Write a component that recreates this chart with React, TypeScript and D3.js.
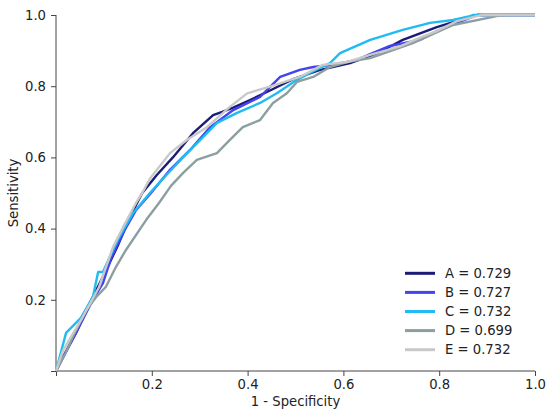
import React, { useRef, useEffect } from "react";
import * as d3 from "d3";

type Pt = [number, number];

// [1 - specificity, sensitivity]
const curveA: Pt[] = [
    [0, 0], [0.015, 0.04], [0.043, 0.11], [0.074, 0.2], [0.1, 0.27], [0.13, 0.355],
    [0.157, 0.44], [0.18, 0.5], [0.21, 0.55], [0.244, 0.6], [0.286, 0.668], [0.328, 0.719],
    [0.347, 0.728], [0.37, 0.74], [0.405, 0.761], [0.45, 0.79], [0.495, 0.82], [0.55, 0.845],
    [0.614, 0.865], [0.676, 0.896], [0.724, 0.93], [0.795, 0.966], [0.87, 0.997], [0.88, 1], [1, 1],
];
const curveB: Pt[] = [
    [0, 0], [0.015, 0.039], [0.048, 0.124], [0.077, 0.2], [0.098, 0.247], [0.115, 0.317],
    [0.14, 0.388], [0.167, 0.452], [0.192, 0.49], [0.203, 0.508], [0.238, 0.565], [0.28, 0.621],
    [0.322, 0.685], [0.37, 0.733], [0.426, 0.77], [0.468, 0.826], [0.509, 0.846], [0.537, 0.854],
    [0.578, 0.86], [0.628, 0.874], [0.656, 0.89], [0.697, 0.913], [0.76, 0.93], [0.795, 0.955],
    [0.837, 0.978], [0.864, 0.992], [0.88, 1], [1, 1],
];
const curveC: Pt[] = [
    [0, 0], [0.021, 0.107], [0.052, 0.149], [0.077, 0.208], [0.088, 0.278], [0.098, 0.278],
    [0.111, 0.317], [0.129, 0.368], [0.161, 0.444], [0.196, 0.5], [0.23, 0.55], [0.265, 0.6],
    [0.307, 0.657], [0.336, 0.697], [0.378, 0.725], [0.426, 0.753], [0.461, 0.78], [0.5, 0.815],
    [0.53, 0.837], [0.572, 0.865], [0.593, 0.893], [0.656, 0.93], [0.724, 0.958], [0.781, 0.978],
    [0.829, 0.986], [0.864, 0.997], [0.87, 1], [1, 1],
];
const curveD: Pt[] = [
    [0, 0], [0.02, 0.05], [0.04, 0.11], [0.063, 0.171], [0.084, 0.208], [0.104, 0.236],
    [0.125, 0.292], [0.146, 0.34], [0.188, 0.424], [0.215, 0.472], [0.24, 0.52], [0.265, 0.556],
    [0.294, 0.593], [0.336, 0.612], [0.363, 0.649], [0.39, 0.685], [0.426, 0.705], [0.453, 0.753],
    [0.482, 0.78], [0.503, 0.812], [0.537, 0.826], [0.572, 0.854], [0.608, 0.868], [0.656, 0.879],
    [0.745, 0.921], [0.829, 0.972], [0.92, 0.997], [0.94, 1], [1, 1],
];
const curveE: Pt[] = [
    [0, 0], [0.015, 0.059], [0.056, 0.152], [0.09, 0.236], [0.119, 0.348], [0.14, 0.404],
    [0.167, 0.472], [0.18, 0.5], [0.196, 0.54], [0.238, 0.612], [0.273, 0.649], [0.315, 0.685],
    [0.363, 0.742], [0.399, 0.78], [0.45, 0.8], [0.509, 0.826], [0.557, 0.86], [0.608, 0.868],
    [0.656, 0.888], [0.718, 0.912], [0.766, 0.94], [0.795, 0.955], [0.837, 0.983], [0.879, 0.997],
    [0.89, 1], [1, 1],
];

const names = ["A", "B", "C", "D", "E"];
const aucs = [0.729, 0.727, 0.732, 0.699, 0.732];
const colors = ["#1b1b78", "#4343ef", "#1fbbf2", "#8c9fa0", "#c9c9c9"];
const curves = [curveA, curveB, curveC, curveD, curveE];
const ticks = [0, 0.2, 0.4, 0.6, 0.8, 1.0];

const width = 550;
const height = 415;
const margin = { top: 15, right: 15, bottom: 44, left: 56 };
const font = "'DejaVu Sans', Verdana, sans-serif";
const fontSize = "13.2px";

export default function App() {
    const ref = useRef<SVGSVGElement | null>(null);

    useEffect(() => {
        if (!ref.current) return;
        const svg = d3.select(ref.current);
        svg.selectAll("*").remove();

        const x = d3.scaleLinear().domain([0, 1]).range([margin.left, width - margin.right]);
        const y = d3.scaleLinear().domain([0, 1]).range([height - margin.bottom, margin.top]);
        const fmt = (d: d3.NumberValue) => (+d === 0 ? "" : d3.format(".1f")(d));

        const xAxis = svg.append("g")
            .attr("transform", `translate(0,${y(0)})`)
            .call(d3.axisBottom(x).tickValues(ticks).tickFormat(fmt).tickSize(5).tickPadding(4));
        const yAxis = svg.append("g")
            .attr("transform", `translate(${x(0)},0)`)
            .call(d3.axisLeft(y).tickValues(ticks).tickFormat(fmt).tickSize(5).tickPadding(5));

        [xAxis, yAxis].forEach((g) => {
            g.select(".domain").attr("stroke", "#444");
            g.selectAll(".tick line").attr("stroke", "#444");
            g.selectAll(".tick text")
                .attr("fill", "#222")
                .style("font-family", font)
                .style("font-size", fontSize);
        });
        xAxis.select(".domain").attr("d", `M${x(0)},0H${x(1)}`);
        yAxis.select(".domain").attr("d", `M0,${y(0)}V${y(1)}`);

        svg.append("text")
            .attr("x", (x(0) + x(1)) / 2)
            .attr("y", 406)
            .attr("text-anchor", "middle")
            .attr("fill", "#222")
            .style("font-family", font)
            .style("font-size", fontSize)
            .text("1 - Specificity");

        svg.append("text")
            .attr("transform", `translate(18,${(y(0) + y(1)) / 2}) rotate(-90)`)
            .attr("text-anchor", "middle")
            .attr("fill", "#222")
            .style("font-family", font)
            .style("font-size", fontSize)
            .text("Sensitivity");

        const line = d3.line<Pt>().x((d) => x(d[0])).y((d) => y(d[1]));

        svg.append("g")
            .selectAll("path")
            .data(curves)
            .enter()
            .append("path")
            .attr("d", (d) => line(d))
            .attr("fill", "none")
            .attr("stroke", (_, i) => colors[i])
            .attr("stroke-width", 2.4)
            .attr("stroke-linejoin", "round");

        const legend = svg.append("g");
        const row = legend.selectAll("g")
            .data(names)
            .enter()
            .append("g")
            .attr("transform", (_, i) => `translate(405,${273.3 + i * 19.1})`);
        row.append("line")
            .attr("x1", 0).attr("x2", 30)
            .attr("stroke", (_, i) => colors[i])
            .attr("stroke-width", 3);
        row.append("text")
            .attr("x", 40)
            .attr("dy", "0.36em")
            .attr("fill", "#222")
            .style("font-family", font)
            .style("font-size", fontSize)
            .text((d, i) => `${d} = ${aucs[i].toFixed(3)}`);
    }, []);

    return (
        <div style={{ position: "absolute", left: 0, top: 0 }}>
            <svg ref={ref} width={width} height={height} style={{ display: "block", background: "#fff" }} />
        </div>
    );
}
